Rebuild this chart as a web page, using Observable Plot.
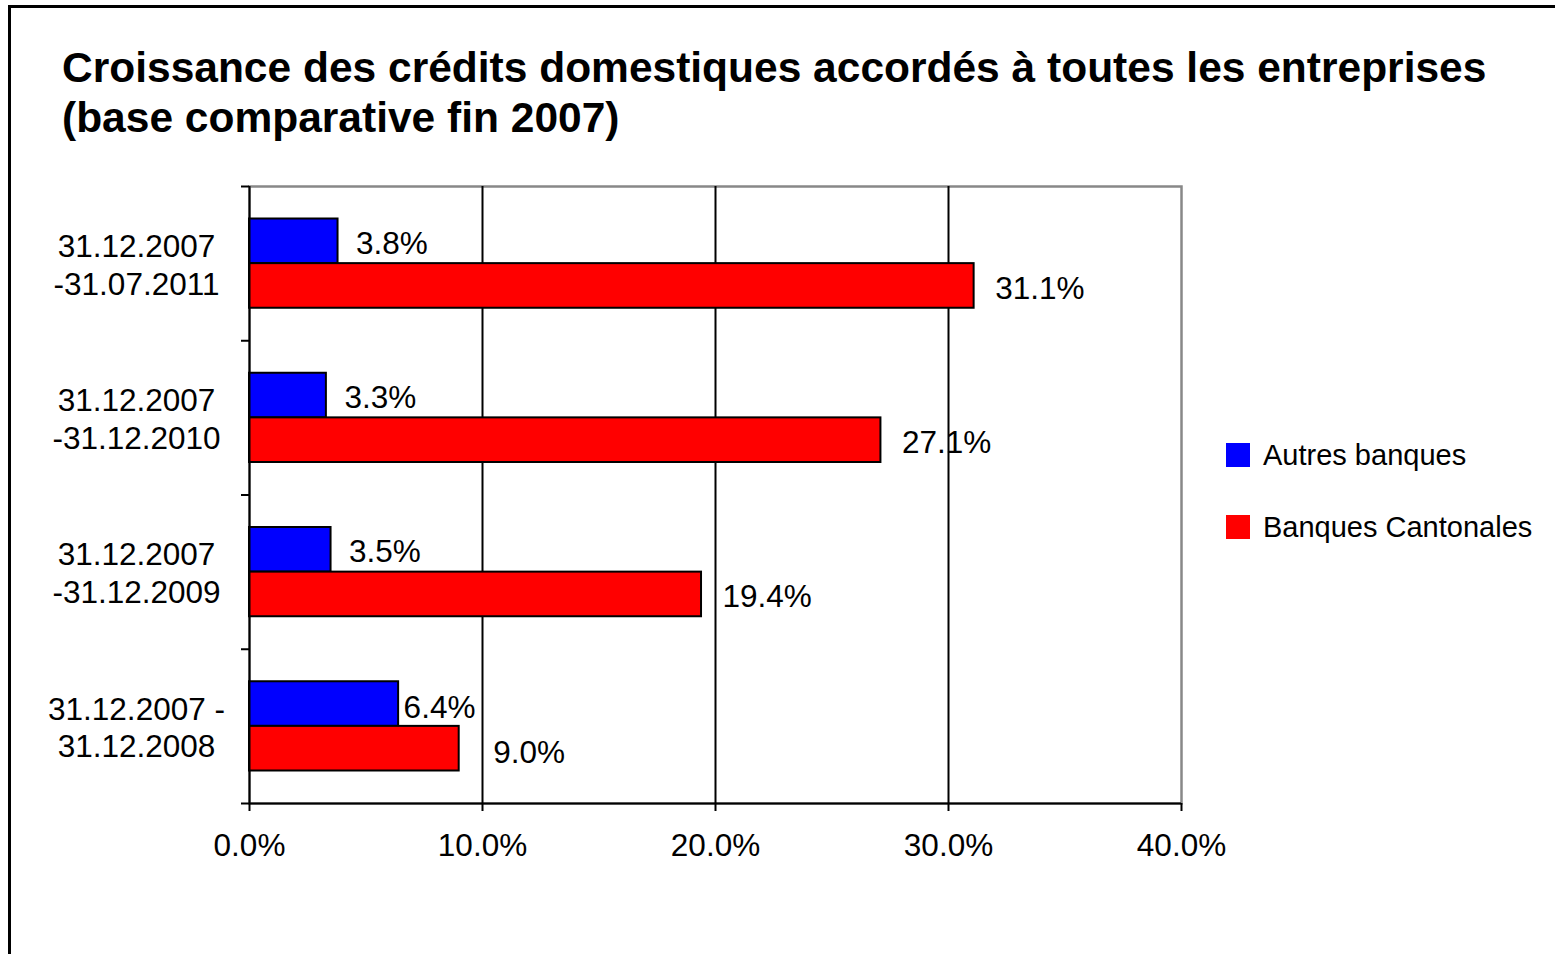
<!DOCTYPE html>
<html>
<head>
<meta charset="utf-8">
<script src="https://cdn.jsdelivr.net/npm/d3@7"></script>
<script src="https://cdn.jsdelivr.net/npm/@observablehq/plot@0.6"></script>
<style>
  html, body { margin: 0; padding: 0; background: #fff; }
  #page { position: relative; width: 1555px; height: 954px; overflow: hidden; font-family: "Liberation Sans", Arial, sans-serif; color: #000; }
  #frame { position: absolute; left: 8px; top: 5px; width: 1700px; height: 1100px; border: 3px solid #000; box-sizing: border-box; pointer-events: none; }
  #title { box-sizing: border-box; height: 165px; padding: 43px 0 0 62px; font-weight: bold; font-size: 42.5px; line-height: 50px; white-space: nowrap; }
  #chart svg { display: block; }
  .legend-item { position: absolute; left: 1226px; font-size: 29px; line-height: 29px; white-space: nowrap; }
  .legend-swatch { position: absolute; left: 0; width: 24px; height: 24px; }
  .legend-label { position: absolute; left: 37px; }
</style>
</head>
<body>
<div id="page">
  <div id="title">Croissance des crédits domestiques accordés à toutes les entreprises<br>(base comparative fin 2007)</div>
  <div id="chart"></div>
  <div id="legend"></div>
  <div id="frame"></div>
</div>
<script>
// ---- data ----
const categories = [
  "31.12.2007\n-31.07.2011",
  "31.12.2007\n-31.12.2010",
  "31.12.2007\n-31.12.2009",
  "31.12.2007 -\n31.12.2008"
];
const autresBanques = [3.8, 3.3, 3.5, 6.4];
const banquesCantonales = [31.1, 27.1, 19.4, 9.0];
const xTicks = [0, 10, 20, 30, 40];
const gridValues = [10, 20, 30];
const seriesNames = ["Autres banques", "Banques Cantonales"];
const seriesColors = ["#0000ff", "#ff0000"];

// ---- tables ----
const autresData = categories.map((cat, i) => ({cat, value: autresBanques[i]}));
const cantonData = categories.map((cat, i) => ({cat, value: banquesCantonales[i]}));
const pct = v => v.toFixed(1) + "%";

const W = 1555, H = 789;
const mTop = 21, mBottom = 151, mLeft = 249, mRight = 374;
const bw = (H - mTop - mBottom) / categories.length;
const pad = 32.5, barH = (bw - 2 * pad) / 2;

const labelStyle = {x: "value", y: "cat", text: d => pct(d.value), textAnchor: "start", fontSize: 31.5};

const chart = Plot.plot({
  width: W,
  height: H,
  marginTop: mTop,
  marginBottom: mBottom,
  marginLeft: mLeft,
  marginRight: mRight,
  style: {fontFamily: '"Liberation Sans", Arial, sans-serif', fontSize: "31.5px", color: "#000", background: "transparent", overflow: "visible"},
  x: {domain: [0, 40], axis: null},
  y: {domain: categories, padding: 0, round: false, axis: null},
  marks: [
    Plot.frame({stroke: "#888", strokeWidth: 2.5}),
    Plot.ruleX(gridValues, {stroke: "#000", strokeWidth: 2}),
    Plot.barX(autresData, {x: "value", y: "cat", fill: seriesColors[0], stroke: "#000", strokeWidth: 2, insetTop: pad, insetBottom: pad + barH}),
    Plot.barX(cantonData, {x: "value", y: "cat", fill: seriesColors[1], stroke: "#000", strokeWidth: 2, insetTop: pad + barH, insetBottom: pad}),
    Plot.ruleX([0], {stroke: "#000", strokeWidth: 2}),
    // category boundary ticks on the left axis
    Plot.ruleY(categories, {y: d => d, x1: 0, x2: 0, insetLeft: -8, dy: -bw / 2, stroke: "#000", strokeWidth: 2}),
    // bottom axis line (with its left tick)
    Plot.ruleY(categories.slice(-1), {y: d => d, x1: 0, x2: 40, insetLeft: -8, dy: bw / 2, stroke: "#000", strokeWidth: 2}),
    Plot.axisX({ticks: xTicks, tickFormat: pct, tickSize: 8, tickPadding: 22, strokeWidth: 2, fontSize: 31.5, label: null}),
    Plot.text(categories, {y: d => d, text: d => d, frameAnchor: "left", dx: -113, textAnchor: "middle", lineHeight: 1.2, fontSize: 31.5}),
    // value labels (the last group is placed differently in the original)
    Plot.text(autresData.slice(0, -1), {...labelStyle, dx: 18, dy: -20}),
    Plot.text(autresData.slice(-1), {...labelStyle, dx: 5, dy: -18}),
    Plot.text(cantonData.slice(0, -1), {...labelStyle, dx: 21, dy: 25}),
    Plot.text(cantonData.slice(-1), {...labelStyle, dx: 34, dy: 27})
  ]
});
document.getElementById("chart").appendChild(chart);

// ---- legend ----
const legend = document.getElementById("legend");
const legendTops = [440.5, 512.5];
seriesNames.forEach((name, i) => {
  const item = document.createElement("div");
  item.className = "legend-item";
  item.style.top = legendTops[i] + "px";
  const sw = document.createElement("div");
  sw.className = "legend-swatch";
  sw.style.background = seriesColors[i];
  sw.style.top = "2.5px";
  const lb = document.createElement("div");
  lb.className = "legend-label";
  lb.textContent = name;
  item.appendChild(sw);
  item.appendChild(lb);
  legend.appendChild(item);
});
</script>
</body>
</html>
